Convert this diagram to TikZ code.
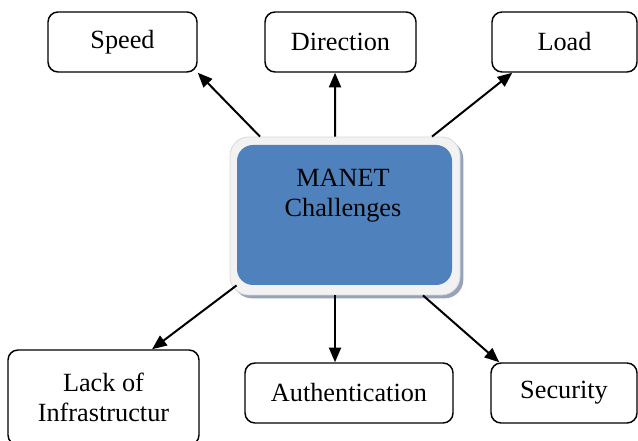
\documentclass[tikz,border=0pt]{standalone}
\usepackage{fontspec}
\setmainfont{Liberation Serif}
\usetikzlibrary{arrows.meta,shadows}
\definecolor{manetblue}{RGB}{79,129,189}
\definecolor{framegray}{RGB}{242,242,242}
\definecolor{shadowgray}{RGB}{150,163,186}
\tikzset{
  item/.style={draw, rounded corners=7.5pt, line width=1.1pt, fill=white,
    font=\fontsize{19.7}{22.5}\selectfont, align=center, inner sep=0pt},
  link/.style={-{Triangle[length=11pt,width=9pt]}, line width=1.5pt},
}
\begin{document}
\begin{tikzpicture}[x=0.75pt,y=-0.75pt]
  \useasboundingbox (0,0) rectangle (638,441);
  % outer boxes
  \node[item, minimum width=111.75pt, minimum height=45pt] (speed) at (122.5,42) {Speed};
  \node[item, minimum width=113.25pt, minimum height=45pt] (direction) at (340.5,42) {Direction};
  \node[item, minimum width=108.75pt, minimum height=45pt] (load) at (564.5,42) {Load};
  \node[item, minimum width=143.25pt, minimum height=71.25pt] (lack) at (103.5,397.5) {Lack of\\Infrastructur};
  \node[item, minimum width=156pt, minimum height=45pt] (auth) at (349,393) {Authentication};
  \node[item, minimum width=109.5pt, minimum height=45pt] (security) at (564,393) {Security};
  % centre box
  \node[draw=black!15, line width=0.6pt, fill=framegray, rounded corners=14pt,
    minimum width=172.5pt, minimum height=118.5pt,
    drop shadow={shadow xshift=2.5pt, shadow yshift=-2.5pt, fill=shadowgray, opacity=1}]
    (frame) at (345,216) {};
  \node[fill=manetblue, rounded corners=12pt, minimum width=161.25pt, minimum height=105pt]
    (manet) at (344.5,215) {};
  \node[font=\fontsize{19.7}{22.5}\selectfont, align=center] (title) at (343,196) {MANET\\Challenges};
  \begin{scope}[link]
    \draw ([xshift=-63.75pt]frame.north) to (speed.south east);
    \draw ([xshift=-7.5pt]frame.north) to ([xshift=-4.1pt]direction.south);
    \draw ([xshift=65.25pt]frame.north) to ([xshift=15.75pt]load.south west);
    \draw ([shift={(7,-10)}]frame.south west) to ([xshift=36.4pt]lack.north);
    \draw ([xshift=-7.5pt]frame.south) to ([xshift=-10.5pt]auth.north);
    \draw ([xshift=58.5pt]frame.south) to ([xshift=6.75pt]security.north west);
  \end{scope}
\end{tikzpicture}
\end{document}
